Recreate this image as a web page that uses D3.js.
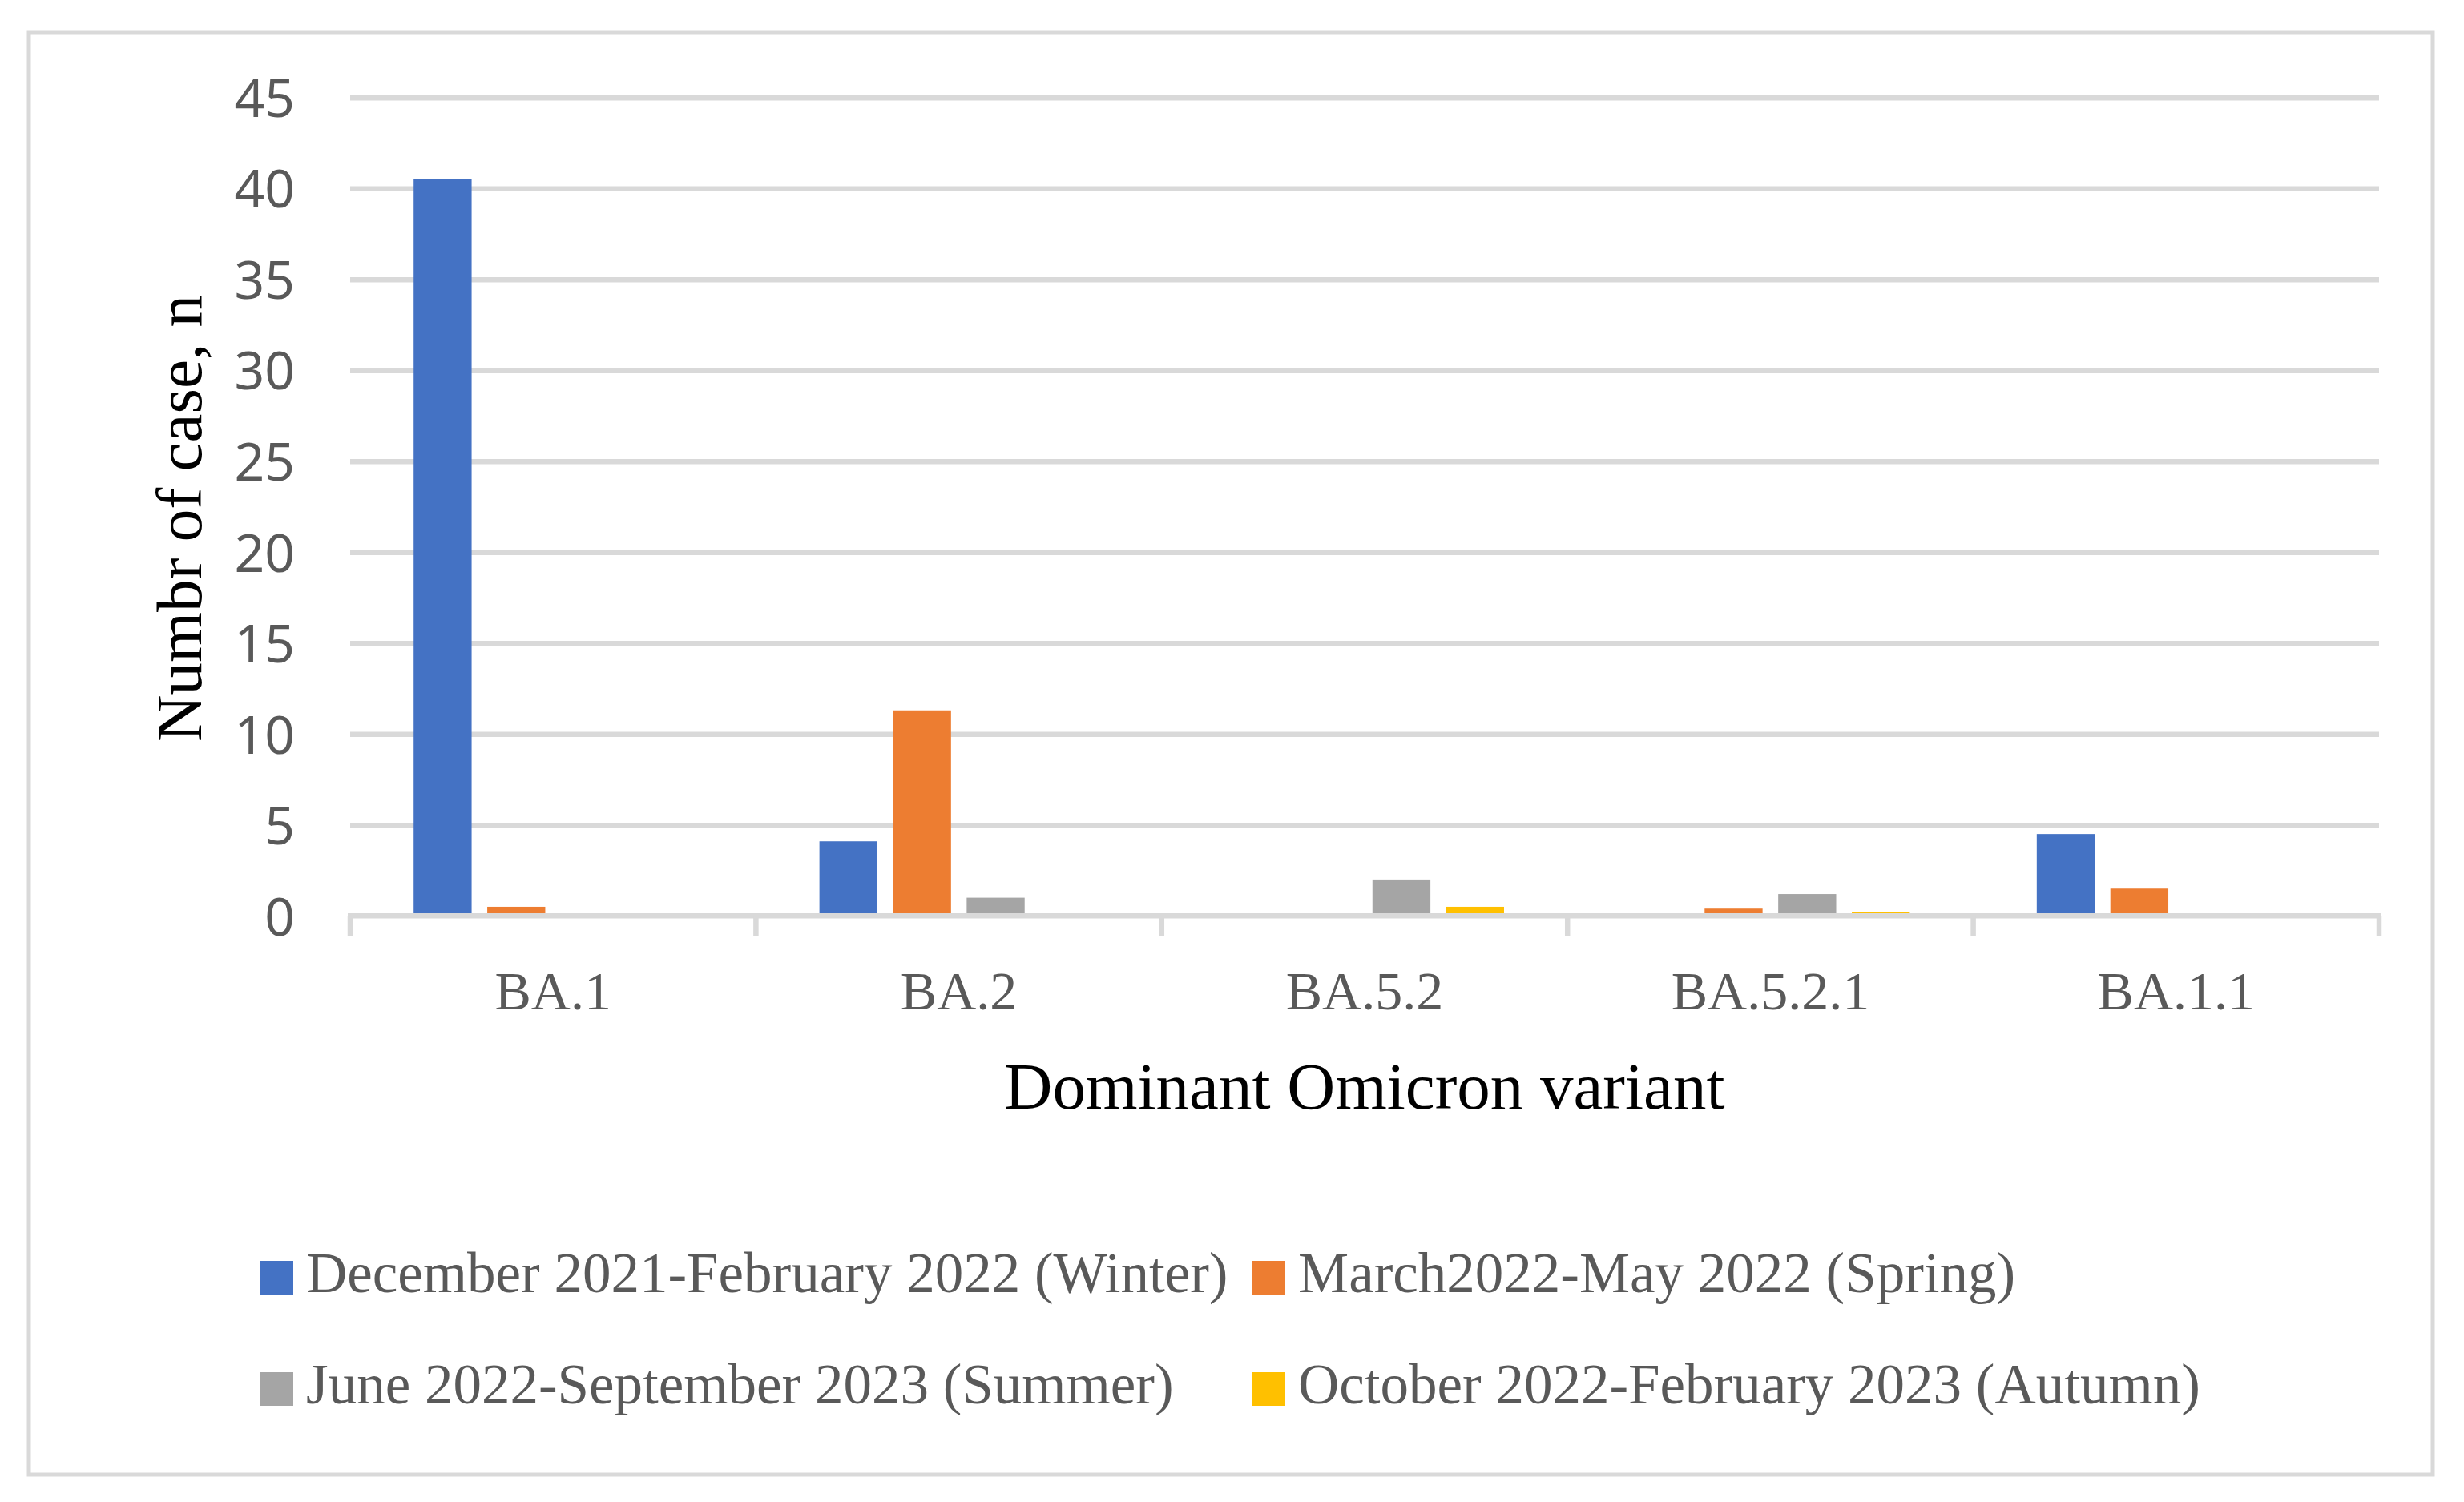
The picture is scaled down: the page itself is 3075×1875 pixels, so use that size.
<!DOCTYPE html>
<html>
<head>
<meta charset="utf-8">
<script src="https://cdn.jsdelivr.net/npm/d3@7.9.0/dist/d3.min.js"></script>
<style>
  body { margin: 0; background: #fff; }
  svg { display: block; }
</style>
</head>
<body>
<svg id="chart" width="3075" height="1875"></svg>
<script>
// data
const variants = ['BA.1', 'BA.2', 'BA.5.2', 'BA.5.2.1', 'BA.1.1'];
const seasons = [
    'December 2021-February 2022 (Winter)',
    'March2022-May 2022 (Spring)',
    'June 2022-September 2023 (Summer)',
    'October 2022-February 2023 (Autumn)',
];
const winter = [40.5, 4.1, 0, 0, 4.5];
const spring = [0.5, 11.3, 0, 0.4, 1.5];
const summer = [0, 1, 2, 1.2, 0];
const autumn = [0, 0, 0.5, 0.2, 0];
const yTicks = [0, 5, 10, 15, 20, 25, 30, 35, 40, 45];

const seriesValues = [winter, spring, summer, autumn];
const colors = ['#4472C4', '#ED7D31', '#A5A5A5', '#FFC000'];

const svg = d3.select('#chart');
const gridColor = '#d9d9d9';
const textGray = '#595959';
const serif = '"Liberation Serif", "Times New Roman", serif';

// outer frame
svg.append('rect')
    .attr('x', 36).attr('y', 41)
    .attr('width', 3000).attr('height', 1800)
    .attr('fill', '#fff')
    .attr('stroke', gridColor)
    .attr('stroke-width', 5);

const plotLeft = 437, plotRight = 2969;
const plotTop = 121.7, plotBottom = 1143.3;

let x = d3.scaleBand().domain(variants).range([plotLeft, plotRight]);
let y = d3.scaleLinear().domain([0, 45]).range([plotBottom, plotTop]);

// bars: Excel style, gap width ~219%, overlap ~-27%
let barW = x.bandwidth() / 7;
let outer = barW * 2.19 / 2;
let x1 = d3.scaleBand()
    .domain(d3.range(seasons.length))
    .range([outer, x.bandwidth() - outer])
    .paddingInner(0.27 / 1.27);

// y gridlines + labels
let yAxis = svg.append('g')
    .attr('transform', `translate(${plotLeft},0)`)
    .call(d3.axisLeft(y)
        .tickValues(yTicks)
        .tickSize(-(plotRight - plotLeft))
        .tickPadding(69));

yAxis.select('.domain').remove();
yAxis.selectAll('.tick line')
    .attr('stroke', (d) => d === 0 ? 'none' : gridColor)
    .attr('stroke-width', 6.5);
yAxis.selectAll('.tick text')
    .attr('fill', textGray)
    .attr('font-family', '"Noto Sans", "Open Sans", sans-serif')
    .attr('font-size', 66)
    .attr('dy', '0.36em');

// bars
seriesValues.forEach((values, s) => {
    svg.append('g')
        .selectAll('rect')
        .data(values)
        .join('rect')
        .attr('x', (d, i) => x(variants[i]) + x1(s))
        .attr('width', x1.bandwidth())
        .attr('y', (d) => y(d))
        .attr('height', (d) => y(0) - y(d))
        .attr('fill', colors[s]);
});

// x axis line with boundary ticks
svg.append('line')
    .attr('x1', plotLeft - 3).attr('x2', plotRight + 3)
    .attr('y1', y(0)).attr('y2', y(0))
    .attr('stroke', gridColor)
    .attr('stroke-width', 6.5);

let bounds = variants.map((v) => x(v)).concat([plotRight]);
svg.append('g')
    .selectAll('line')
    .data(bounds)
    .join('line')
    .attr('x1', (d) => d).attr('x2', (d) => d)
    .attr('y1', y(0)).attr('y2', y(0) + 25)
    .attr('stroke', gridColor)
    .attr('stroke-width', 6.5);

let xAxis = svg.append('g')
    .attr('transform', `translate(0,${plotBottom})`)
    .call(d3.axisBottom(x).tickSize(0));

xAxis.select('.domain').remove();
xAxis.selectAll('.tick text')
    .attr('y', 117)
    .attr('dy', 0)
    .attr('fill', textGray)
    .attr('font-family', serif)
    .attr('font-size', 68);

// axis titles
svg.append('text')
    .attr('x', (plotLeft + plotRight) / 2)
    .attr('y', 1384)
    .attr('text-anchor', 'middle')
    .attr('font-family', serif)
    .attr('font-size', 83)
    .attr('fill', '#000')
    .text('Dominant Omicron variant');

svg.append('text')
    .attr('transform', 'translate(251,647) rotate(-90)')
    .attr('text-anchor', 'middle')
    .attr('font-family', serif)
    .attr('font-size', 81)
    .attr('fill', '#000')
    .text('Numbr of case, n');

// legend, 2 x 2
const legendCols = [324, 1562];
const legendRows = [1613, 1752];
let legend = svg.append('g');

seasons.forEach((label, i) => {
    let lx = legendCols[i % 2];
    let ly = legendRows[Math.floor(i / 2)];
    let item = legend.append('g');
    item.append('rect')
        .attr('x', lx)
        .attr('y', ly - 39)
        .attr('width', 42)
        .attr('height', 42)
        .attr('fill', colors[i]);
    item.append('text')
        .attr('x', lx + 58)
        .attr('y', ly)
        .attr('font-family', serif)
        .attr('font-size', 71)
        .attr('fill', textGray)
        .text(label);
});
</script>
</body>
</html>
